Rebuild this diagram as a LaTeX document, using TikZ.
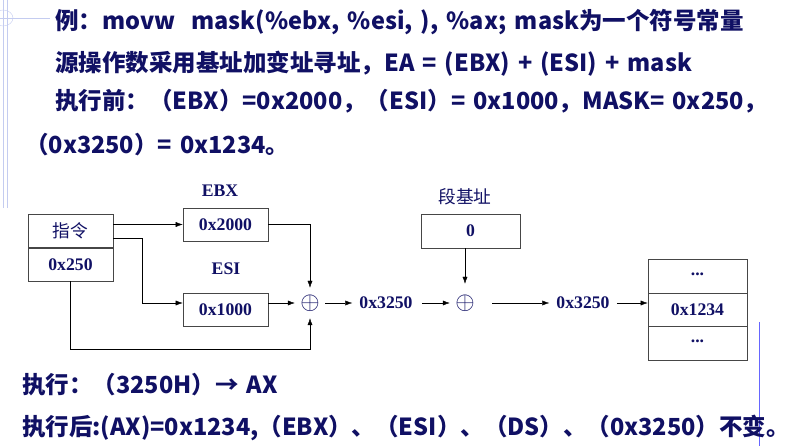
\documentclass[tikz,border=0pt]{standalone}
\usepackage{fontspec}
\setmainfont{Liberation Serif}
\newfontfamily\cjk[WordSpace=1.5]{Noto Sans CJK SC}
\usetikzlibrary{arrows.meta, positioning, calc}
\definecolor{navy}{RGB}{16,16,100}
\definecolor{boxline}{RGB}{70,70,70}
\definecolor{deco}{RGB}{196,204,240}

\tikzset{
  txt/.style={anchor=base west, inner sep=0pt, text=navy, font=\cjk\bfseries\fontsize{23.5}{28}\selectfont},
  reg/.style={draw=boxline, semithick, minimum width=85pt, minimum height=33pt, inner sep=0pt, text=navy, font=\bfseries\fontsize{17.7}{20}\selectfont},
  lbl/.style={text=navy, inner sep=7pt, font=\bfseries\fontsize{17.7}{20}\selectfont},
  sum/.style={circle, minimum size=30pt, inner sep=0pt, text=navy, font=\fontsize{26}{28}\selectfont},
  arr/.style={-{Latex[length=7pt,width=5pt]}, thin, black},
}

\begin{document}
\begin{tikzpicture}[x=1pt, y=-1pt]
\useasboundingbox (0,0) rectangle (790,446);

% Rand der Folie
\draw[deco] (3,0) -- (3,208) (7,0) -- (7,208) (0,18) -- (50,18);
\draw[deco] (3,18) ellipse (10 and 8);
\draw[blue!60] (759,322) -- (759,446);

% Text oben
\node[txt] (t1) at (55,30) {例：movw\ \ mask(\%ebx, \%esi, ), \%ax; mask为一个符号常量};
\node[txt] (t2) at (55,72) {源操作数采用基址加变址寻址，EA = (EBX) + (ESI) + mask};
\node[txt] (t3) at (55,110) {执行前：（EBX）=0x2000，（ESI）= 0x1000，MASK= 0x250，};
\node[txt] (t4) at (25,154) {（0x3250）= 0x1234。};

% Register
\node[reg, font=\cjk\fontsize{17.7}{20}\selectfont] (ins) at (70.5,231) {指令};
\node[reg, minimum height=33pt] (off) at (70.5,264.5) {0x250};
\node[reg] (ebx) at (225.5,224.5) {0x2000};
\node[reg] (esi) at (225.5,309.5) {0x1000};
\node[lbl] (ebxname) at (220,191) {EBX};
\node[lbl] (esiname) at (226,269) {ESI};

% Addierer
\node[sum] (add1) at (310,303) {$\oplus$};
\node[lbl] (ea1) at (386,303) {0x3250};
\node[sum] (add2) at (465,303) {$\oplus$};
\node[lbl, font=\cjk\fontsize{17.7}{20}\selectfont] (segname) at (465,197) {段基址};
\node[reg, minimum width=99pt, minimum height=34pt] (seg) at (470.5,231) {0};
\node[lbl] (ea2) at (583,303) {0x3250};

% Speicher
\node[reg, minimum width=99pt, minimum height=34pt] (m1) at (697.5,276) {\raisebox{3pt}{...}};
\node[reg, minimum width=99pt, minimum height=33pt] (m2) at (697.5,309.5) {0x1234};
\node[reg, minimum width=99pt, minimum height=34pt] (m3) at (697.5,343) {\raisebox{3pt}{...}};

% Pfeile
\draw[arr] (ebx.west -| ins.east) -- (ebx.west);
\draw[arr] ([yshift=-7pt]ins.east) -- ++(29,0) |- (esi.west |- add1);
\draw[arr] (ebx.east) -| (add1.north);
\draw[arr] (esi.east |- add1) -- (add1.west);
\draw[arr] (off.south) -- ++(0,68) -| (add1.south);
\draw[arr] (add1.east) -- (ea1.west);
\draw[arr] ([xshift=2pt]ea1.east) -- (add2.west);
\draw[arr] (seg.south -| add2) -- ([yshift=4pt]add2.north);
\draw[arr] ([xshift=12pt]add2.east) -- (ea2.west);
\draw[arr] (ea2.east) -- (m2.west |- ea2);

% Text unten
\node[txt] (b1) at (22,393) {执行：（3250H）→ AX};
\node[txt] (b2) at (22,435) {执行后:(AX)=0x1234,（EBX）、（ESI）、（DS）、（0x3250）不变。};
\end{tikzpicture}
\end{document}
